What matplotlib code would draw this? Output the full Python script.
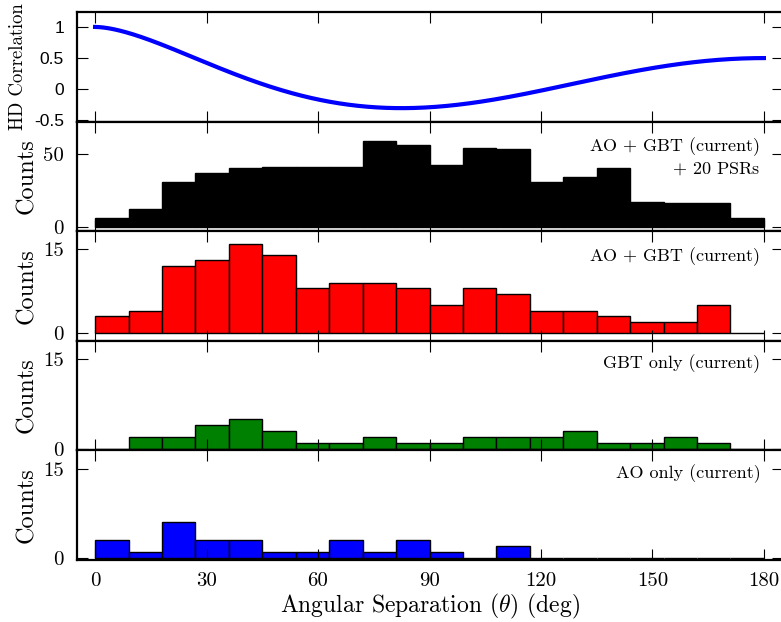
import matplotlib
matplotlib.use('Agg')
import matplotlib.pyplot as plt
import numpy as np

plt.rcParams['mathtext.fontset'] = 'cm'
plt.rcParams['axes.unicode_minus'] = False

# 9 degree bins from 0 to 180
bin_edges = np.arange(0, 181, 9)

counts_20psr = [6, 12, 31, 37, 40, 41, 41, 41, 59, 56,
                42, 54, 53, 31, 34, 40, 17, 16, 16, 6]
counts_all = [3, 4, 12, 13, 16, 14, 8, 9, 9, 8,
              5, 8, 7, 4, 4, 3, 2, 2, 5, 0]
counts_gbt = [0, 2, 2, 4, 5, 3, 1, 1, 2, 1,
              1, 2, 2, 2, 3, 1, 1, 2, 1, 0]
counts_ao = [3, 1, 6, 3, 3, 1, 1, 3, 1, 3,
             1, 0, 2, 0, 0, 0, 0, 0, 0, 0]

labels = [r'AO $+$ GBT (current)' + '\n' + r'$+$ 20 PSRs',
          r'AO $+$ GBT (current)',
          'GBT only (current)',
          'AO only (current)']
colors = ['black', '#ff0000', 'green', '#0000ff']
ylims = [(-3, 72), (-1.4, 18.2), (-0.25, 18), (-0.3, 18.1)]
yticks = [[0, 50], [0, 15], [0, 15], [0, 15]]

# Hellings-Downs curve (normalised to 1 at zero separation)
theta = np.linspace(0, 180, 500)
xx = (1 - np.cos(np.radians(theta))) / 2
xx[0] = 1e-12
hd = 3 * xx * np.log(xx) - xx / 2 + 1

fig = plt.figure(figsize=(7.81, 6.22), dpi=100)
W, H = 781., 622.
left, right = 76.5 / W, 782.5 / W
top, bottom = 1 - 12 / H, 1 - 560 / H
ph = (top - bottom) / 5

axes = []
for i in range(5):
    ax = fig.add_axes([left, top - (i + 1) * ph, right - left, ph])
    axes.append(ax)

serif = 'cmr10'

ax0 = axes[0]
ax0.plot(theta, hd, color='#0000ff', lw=3)
ax0.set_ylim(-0.52, 1.24)
ax0.set_yticks([-0.5, 0, 0.5, 1])
ax0.set_yticklabels(['-0.5', '0', '0.5', '1'], family='Liberation Sans', fontsize=12.5)
ax0.set_ylabel('HD Correlation', family=serif, fontsize=13.5, va='center')
ax0.yaxis.set_label_coords(-0.083, 0.5)

for i, ax in enumerate(axes[1:]):
    ax.bar(bin_edges[:-1], [counts_20psr, counts_all, counts_gbt, counts_ao][i],
           width=9, align='edge', color=colors[i], edgecolor='black', linewidth=1)
    ax.set_ylim(*ylims[i])
    ax.set_yticks(yticks[i])
    ax.set_yticklabels([str(t) for t in yticks[i]], family=serif, fontsize=15)
    ax.set_ylabel('Counts', family=serif, fontsize=17.5, va='center')
    ax.yaxis.set_label_coords(-0.070, 0.5)
    ax.text(0.9686, 0.875, labels[i], transform=ax.transAxes, ha='right', va='top',
            family=serif, fontsize=13, multialignment='right')

for ax in axes:
    ax.set_xlim(-5, 185)
    ax.set_xticks(np.arange(0, 181, 30))
    ax.tick_params(direction='in', top=True, right=True, length=8, width=0.8, pad=9)
    for s in ax.spines.values():
        s.set_linewidth(1.6)
    if ax is not axes[-1]:
        ax.tick_params(labelbottom=False)

axes[-1].set_xticklabels([str(t) for t in range(0, 181, 30)], family=serif, fontsize=15)
axes[-1].set_xlabel(r'Angular Separation ($\theta$) (deg)', family=serif, fontsize=17, labelpad=1)

fig.savefig('out.png', dpi=100)
